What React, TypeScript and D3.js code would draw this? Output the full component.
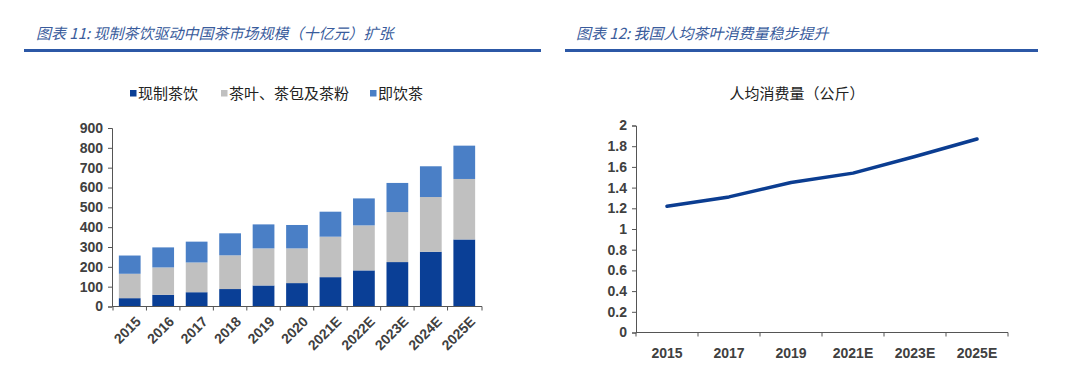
import { useEffect, useRef } from 'react'
import * as d3 from 'd3'

const YEARS = ['2015', '2016', '2017', '2018', '2019', '2020', '2021E', '2022E', '2023E', '2024E', '2025E']
const FRESH_TEA = [42, 59, 72, 88, 106, 118, 148, 182, 224, 276, 338]
const LEAF_TEA = [123, 138, 150, 170, 187, 175, 204, 227, 252, 276, 305]
const RTD_TEA = [92, 101, 105, 111, 121, 118, 126, 136, 147, 155, 168]
const SERIES_NAMES = ['现制茶饮', '茶叶、茶包及茶粉', '即饮茶']
const SERIES_COLORS = ['#0A3F96', '#C0C0C0', '#4A7FC6']

const LINE_YEARS = ['2015', '2017', '2019', '2021E', '2023E', '2025E']
const PER_CAPITA = [1.22, 1.31, 1.45, 1.54, 1.70, 1.87]

const TITLE_LEFT = '图表 11:  现制茶饮驱动中国茶市场规模（十亿元）扩张'
const TITLE_RIGHT = '图表 12:  我国人均茶叶消费量稳步提升'
const SUBTITLE_RIGHT = '人均消费量（公斤）'

const FONT = 'Liberation Sans, Arial, "Noto Sans CJK SC", sans-serif'
const CJK = '"Noto Sans CJK SC", sans-serif'
const TEXT = '#404040'

export default function App() {
  const svgRef = useRef<SVGSVGElement>(null)

  useEffect(() => {
    const svg = d3.select(svgRef.current)
    svg.selectAll('*').remove()
    svg.append('rect').attr('width', 1080).attr('height', 374).attr('fill', '#fff')

    // ── Section headers ─────────────────────────────────────────────────────────
    const headers = [
      { text: TITLE_LEFT, x: 36, x1: 24, x2: 541 },
      { text: TITLE_RIGHT, x: 576, x1: 565, x2: 1038 },
    ]
    headers.forEach(h => {
      svg.append('text')
        .attr('x', h.x).attr('y', 39)
        .attr('font-family', CJK).attr('font-size', 15).attr('font-style', 'italic')
        .attr('fill', '#3A5C9C')
        .text(h.text)
      svg.append('line')
        .attr('x1', h.x1).attr('x2', h.x2).attr('y1', 50.5).attr('y2', 50.5)
        .attr('stroke', '#2C58A6').attr('stroke-width', 3)
    })

    // ── Left: stacked bars ──────────────────────────────────────────────────────
    const rows = YEARS.map((year, i) => ({ year, a: FRESH_TEA[i], b: LEAF_TEA[i], c: RTD_TEA[i] }))
    const stack = d3.stack<typeof rows[number]>().keys(['a', 'b', 'c'])(rows)

    const x = d3.scaleBand(YEARS, [113, 481]).paddingInner(0.35).paddingOuter(0.175)
    const y = d3.scaleLinear([0, 900], [306.5, 128])

    const left = svg.append('g')
    stack.forEach((layer, si) => {
      left.append('g').selectAll('rect').data(layer).join('rect')
        .attr('x', d => x(d.data.year)!)
        .attr('width', x.bandwidth())
        .attr('y', d => y(d[1]))
        .attr('height', d => y(d[0]) - y(d[1]))
        .attr('fill', SERIES_COLORS[si])
    })

    left.append('g')
      .attr('transform', 'translate(112,0)')
      .call(d3.axisLeft(y).tickValues(d3.range(0, 901, 100)).tickSize(4).tickPadding(5))
      .call(ag => ag.select('.domain').attr('stroke', '#555'))
      .call(ag => ag.selectAll('.tick line').attr('stroke', '#555'))
      .call(ag => ag.selectAll('text').attr('fill', TEXT).attr('font-size', 14)
        .attr('font-family', FONT).attr('font-weight', 'bold'))

    const xAxisL = left.append('g').attr('transform', 'translate(0,306.5)')
    xAxisL.append('line').attr('x1', 112).attr('x2', 482).attr('stroke', '#555')
    ;[...YEARS.map(c => x(c)! - x.step() * x.paddingInner() / 2), 482].forEach(tx => {
      xAxisL.append('line').attr('x1', tx).attr('x2', tx).attr('y1', 0).attr('y2', 4).attr('stroke', '#555')
    })
    YEARS.forEach(c => {
      const cx = x(c)! + x.bandwidth() / 2 + 5
      xAxisL.append('text')
        .attr('transform', `translate(${cx},9) rotate(-45)`)
        .attr('text-anchor', 'end').attr('dy', '0.7em')
        .attr('font-family', FONT).attr('font-size', 14).attr('font-weight', 'bold')
        .attr('fill', TEXT)
        .text(c)
    })

    // Legend
    const legendX = [130, 221, 370]
    SERIES_NAMES.forEach((name, i) => {
      svg.append('rect')
        .attr('x', legendX[i]).attr('y', 90).attr('width', 6.5).attr('height', 6.5)
        .attr('fill', SERIES_COLORS[i])
      svg.append('text')
        .attr('x', legendX[i] + 8).attr('y', 99)
        .attr('font-family', CJK).attr('font-size', 15).attr('fill', '#222')
        .text(name)
    })

    // ── Right: line chart ───────────────────────────────────────────────────────
    const xr = d3.scaleBand(LINE_YEARS, [636, 1008])
    const yr = d3.scaleLinear([0, 2], [332.5, 125.5])
    const right = svg.append('g')

    right.append('g')
      .attr('transform', 'translate(636,0)')
      .call(d3.axisLeft(yr).tickValues(d3.range(0, 2.01, 0.2)).tickFormat(d => d3.format('.1~f')(+d)).tickSize(4).tickPadding(5))
      .call(ag => ag.select('.domain').attr('stroke', '#555'))
      .call(ag => ag.selectAll('.tick line').attr('stroke', '#555'))
      .call(ag => ag.selectAll('text').attr('fill', TEXT).attr('font-size', 14)
        .attr('font-family', FONT).attr('font-weight', 'bold'))

    const xAxisR = right.append('g').attr('transform', 'translate(0,332.5)')
    xAxisR.append('line').attr('x1', 636).attr('x2', 1008).attr('stroke', '#555')
    ;[...LINE_YEARS.map(c => xr(c)!), 1008].forEach(tx => {
      xAxisR.append('line').attr('x1', tx).attr('x2', tx).attr('y1', 0).attr('y2', 4).attr('stroke', '#555')
    })
    LINE_YEARS.forEach(c => {
      xAxisR.append('text')
        .attr('x', xr(c)! + xr.bandwidth() / 2).attr('y', 25)
        .attr('text-anchor', 'middle')
        .attr('font-family', FONT).attr('font-size', 14).attr('font-weight', 'bold')
        .attr('fill', TEXT)
        .text(c)
    })

    const line = d3.line<number>()
      .x((_, i) => xr(LINE_YEARS[i])! + xr.bandwidth() / 2)
      .y(d => yr(d))
    right.append('path')
      .attr('d', line(PER_CAPITA) ?? '')
      .attr('fill', 'none').attr('stroke', '#0B3D91').attr('stroke-width', 3.5)
      .attr('stroke-linejoin', 'round').attr('stroke-linecap', 'round')

    svg.append('text')
      .attr('x', 797).attr('y', 99).attr('text-anchor', 'middle')
      .attr('font-family', CJK).attr('font-size', 15).attr('fill', '#222')
      .text(SUBTITLE_RIGHT)
  }, [])

  return (
    <div style={{ position: 'fixed', left: 0, top: 0, width: 1080, height: 374 }}>
      <svg ref={svgRef} width={1080} height={374} style={{ display: 'block' }} />
    </div>
  )
}
